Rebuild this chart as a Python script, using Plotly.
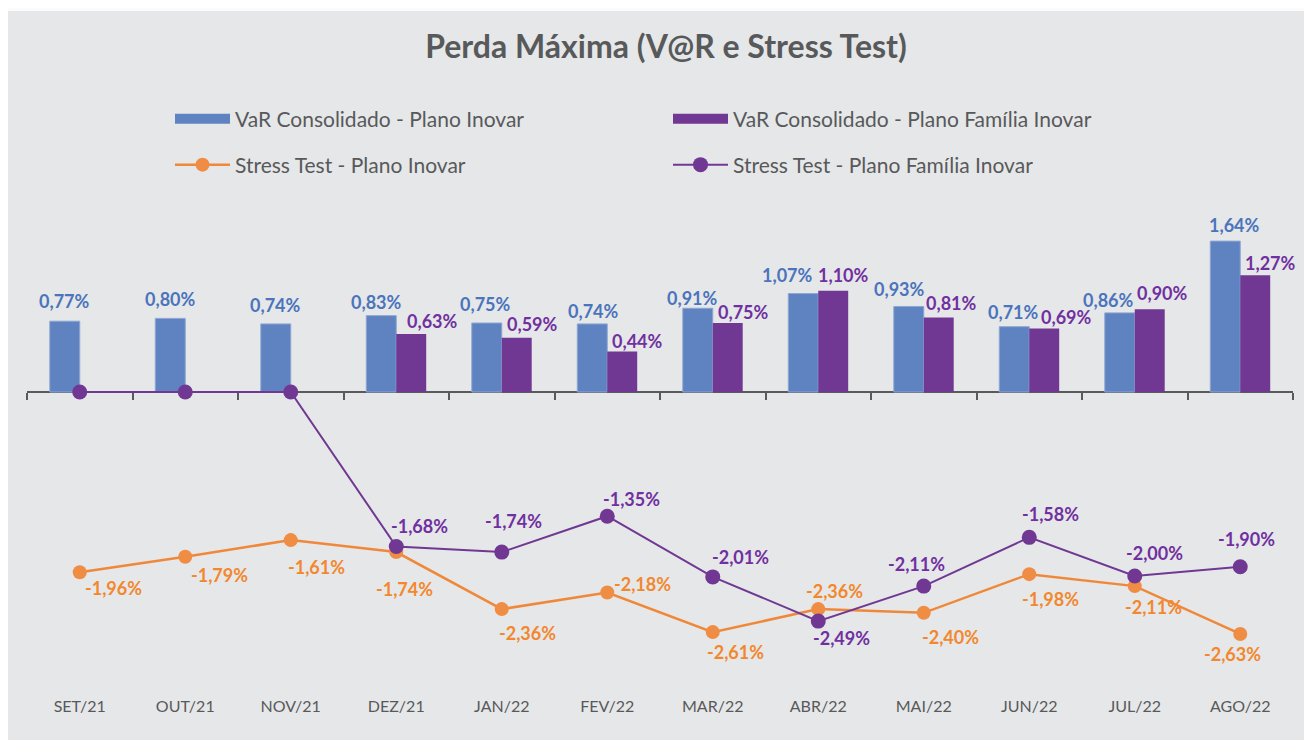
import plotly.graph_objects as go

# ---------------- data ----------------
CATEGORIES = ["SET/21", "OUT/21", "NOV/21", "DEZ/21", "JAN/22", "FEV/22",
              "MAR/22", "ABR/22", "MAI/22", "JUN/22", "JUL/22", "AGO/22"]
VAR_INOVAR = [0.77, 0.80, 0.74, 0.83, 0.75, 0.74, 0.91, 1.07, 0.93, 0.71, 0.86, 1.64]
VAR_FAMILIA = [None, None, None, 0.63, 0.59, 0.44, 0.75, 1.10, 0.81, 0.69, 0.90, 1.27]
STRESS_INOVAR = [-1.96, -1.79, -1.61, -1.74, -2.36, -2.18, -2.61, -2.36, -2.40, -1.98, -2.11, -2.63]
STRESS_FAMILIA = [0, 0, 0, -1.68, -1.74, -1.35, -2.01, -2.49, -2.11, -1.58, -2.00, -1.90]

NAMES = ["VaR Consolidado - Plano Inovar", "VaR Consolidado - Plano Família Inovar",
         "Stress Test - Plano Inovar", "Stress Test - Plano Família Inovar"]
TITLE = "Perda Máxima (V@R e Stress Test)"

# ---------------- style ----------------
BLUE = "#5f82c1"
PURPLE = "#703893"
ORANGE = "#f0883a"
BLUE_TXT = "#4a74bc"
PURPLE_TXT = "#7030a0"
ORANGE_TXT = "#f2872e"
GRAY_TXT = "#58595b"
BG = "#e6e7e8"
FONT = "Lato"

# label pixel offsets (style), relative to the bar top / marker centre
BLUE_DX = [0, 0, 0, -5, -1, 1, -5, -16, -9, -1, -11, 9]
BLUE_DY = [-20, -19, -19, -14, -19, -13, -10, -19, -17, -15, -13, -16]
PURP_DX = [0, 0, 0, 21, 16, 15, 16, 10, 13, 22, 13, 15]
PURP_DY = [0, 0, 0, -13, -14, -11, -11, -16, -14, -12, -16, -12]
ORANGE_DX = [34, 34, 26, 8, 26, 35, 23, 16, 27, 21, 19, -8]
ORANGE_DY = [16, 18, 27, 37, 24, -9, 20, -18, 24, 25, 21, 20]
PLINE_DX = [0, 0, 0, 23, 12, 24, 28, 23, -7, 21, 20, 6]
PLINE_DY = [0, 0, 0, -21, -31, -17, -20, 17, -22, -23, -23, -28]

# the page body adds an 8px margin; work in page pixels and convert
PAGE_OFF = 8
W, H = 1312 - PAGE_OFF, 740 - PAGE_OFF
PLOT_LEFT, PLOT_RIGHT, PLOT_TOP, PLOT_BOTTOM = 27, 1293, 200, 690   # page px
ML = PLOT_LEFT - PAGE_OFF
MR = W - (PLOT_RIGHT - PAGE_OFF)
MT = PLOT_TOP - PAGE_OFF
MB = H - (PLOT_BOTTOM - PAGE_OFF)
PLOT_W = W - ML - MR
PLOT_H = H - MT - MB
ZERO_Y = 392           # page pixel row of the zero line
PX_PER_UNIT = 92.0
Y_TOP = (ZERO_Y - PLOT_TOP) / PX_PER_UNIT
Y_BOT = -(PLOT_BOTTOM - ZERO_Y) / PX_PER_UNIT
BAR_SHIFT = 15


def fmt(v):
    return f"{v:.2f}".replace(".", ",") + "%"


def px_x(px):  # page px -> paper fraction
    return (px - PLOT_LEFT) / PLOT_W


def px_y(py):
    return (PLOT_BOTTOM - py) / PLOT_H


fig = go.Figure()

# bars
fig.add_trace(go.Bar(x=CATEGORIES, y=VAR_INOVAR, name=NAMES[0], marker_color=BLUE,
                     marker_line=dict(color="#8ea6d4", width=1), showlegend=False,
                     hoverinfo="x+y"))
fig.add_trace(go.Bar(x=CATEGORIES, y=VAR_FAMILIA, name=NAMES[1], marker_color=PURPLE,
                     marker_line_width=0, showlegend=False, hoverinfo="x+y"))

# legend proxies for bars (wide rectangles)
fig.add_trace(go.Scatter(x=[None], y=[None], mode="lines", name=NAMES[0],
                         line=dict(color=BLUE, width=16), legend="legend"))
fig.add_trace(go.Scatter(x=[None], y=[None], mode="lines", name=NAMES[1],
                         line=dict(color=PURPLE, width=16), legend="legend"))

# invisible trace carrying the zero axis
fig.add_trace(go.Scatter(x=CATEGORIES, y=[0] * len(CATEGORIES), xaxis="x2", mode="lines",
                         line=dict(width=0, color="rgba(0,0,0,0)"), showlegend=False,
                         hoverinfo="skip"))

# lines
fig.add_trace(go.Scatter(x=CATEGORIES, y=STRESS_INOVAR, name=NAMES[2], mode="lines+markers",
                         line=dict(color=ORANGE, width=2.5),
                         marker=dict(color="#f08d45", size=14), legend="legend2"))
fig.add_trace(go.Scatter(x=CATEGORIES, y=STRESS_FAMILIA, name=NAMES[3], mode="lines+markers",
                         line=dict(color=PURPLE, width=2),
                         marker=dict(color=PURPLE, size=15), legend="legend2"))

# labels
ann = []
lab_font = dict(family=FONT, size=18)
for i, c in enumerate(CATEGORIES):
    if VAR_INOVAR[i] is not None:
        ann.append(dict(x=c, y=VAR_INOVAR[i], xref="x", yref="y", text=fmt(VAR_INOVAR[i]),
                        showarrow=False, xshift=-BAR_SHIFT + BLUE_DX[i], yshift=-BLUE_DY[i],
                        font=dict(lab_font, color=BLUE_TXT, weight="bold")))
    if VAR_FAMILIA[i] is not None:
        ann.append(dict(x=c, y=VAR_FAMILIA[i], xref="x", yref="y", text=fmt(VAR_FAMILIA[i]),
                        showarrow=False, xshift=BAR_SHIFT + PURP_DX[i], yshift=-PURP_DY[i],
                        font=dict(lab_font, color=PURPLE_TXT, weight="bold")))
    ann.append(dict(x=c, y=STRESS_INOVAR[i], xref="x", yref="y", text=fmt(STRESS_INOVAR[i]),
                    showarrow=False, xshift=ORANGE_DX[i], yshift=-ORANGE_DY[i],
                    font=dict(lab_font, color=ORANGE_TXT, weight="bold")))
    if STRESS_FAMILIA[i] != 0:
        ann.append(dict(x=c, y=STRESS_FAMILIA[i], xref="x", yref="y", text=fmt(STRESS_FAMILIA[i]),
                        showarrow=False, xshift=PLINE_DX[i], yshift=-PLINE_DY[i],
                        font=dict(lab_font, color=PURPLE_TXT, weight="bold")))

legend_common = dict(orientation="h", xanchor="left", yanchor="middle",
                     bgcolor="rgba(0,0,0,0)", borderwidth=0,
                     font=dict(family=FONT, size=21, color=GRAY_TXT),
                     itemwidth=55, entrywidth=428, entrywidthmode="pixels",
                     itemclick=False, itemdoubleclick=False)

fig.update_layout(
    width=W, height=H,
    margin=dict(l=ML, r=MR, t=MT, b=MB, autoexpand=False),
    paper_bgcolor=BG,
    plot_bgcolor="rgba(0,0,0,0)",
    font=dict(family=FONT, color=GRAY_TXT),
    title=dict(text=TITLE, x=(666 - PAGE_OFF) / W, xref="container", xanchor="center",
               y=1 - (47 - PAGE_OFF) / H, yref="container", yanchor="middle",
               font=dict(family=FONT, size=32, color=GRAY_TXT, weight="bold")),
    barmode="group", bargap=0.432, bargroupgap=0,
    xaxis=dict(type="category", categoryorder="array", categoryarray=CATEGORIES,
               range=[-0.5, len(CATEGORIES) - 0.5], showline=False, showgrid=False,
               zeroline=False, ticks="", ticklabelstandoff=5,
               tickfont=dict(family=FONT, size=16, color=GRAY_TXT), fixedrange=True),
    xaxis2=dict(type="category", overlaying="x", matches="x", anchor="free",
                position=px_y(ZERO_Y), showline=True, linecolor="#5a5a5a", linewidth=2,
                ticks="outside", tickson="boundaries", ticklen=7, tickwidth=1.5,
                tickcolor="#5a5a5a", showticklabels=False, showgrid=False, zeroline=False,
                layer="below traces"),
    yaxis=dict(range=[Y_BOT, Y_TOP], visible=False, showgrid=False, zeroline=False,
               fixedrange=True),
    legend=dict(legend_common, x=px_x(170), y=px_y(119)),
    legend2=dict(legend_common, x=px_x(170), y=px_y(165)),
    annotations=ann,
    shapes=[dict(type="rect", xref="paper", yref="paper", layer="below",
                 x0=px_x(0), x1=px_x(1320), y0=px_y(11), y1=px_y(0),
                 line_width=0, fillcolor="#fafbfd")],
    hovermode="closest",
)

fig.write_html("out.html")
